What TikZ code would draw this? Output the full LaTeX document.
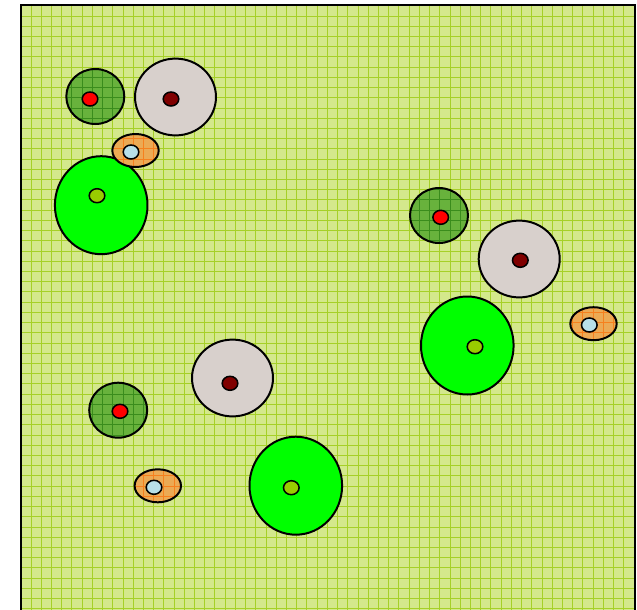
\documentclass[tikz,border=0pt]{standalone}
\definecolor{lawn}{RGB}{212,232,140}
\definecolor{lawngrid}{RGB}{166,208,40}
\definecolor{bush}{RGB}{104,178,60}
\definecolor{bushgrid}{RGB}{58,140,28}
\definecolor{bed}{RGB}{236,170,84}
\definecolor{bedgrid}{RGB}{246,128,30}
\definecolor{stone}{RGB}{216,208,204}
\definecolor{pond}{RGB}{184,224,232}
\definecolor{seed}{RGB}{153,204,0}
\definecolor{berry}{RGB}{128,0,0}
\tikzset{
  outline/.style={draw=black,line width=1.7pt},
  dotline/.style={draw=black,line width=1.3pt},
  gridline/.style={line width=0.8pt}
}
\begin{document}
\begin{tikzpicture}[x=0.03cm,y=-0.03cm]
  \clip (0,0) rectangle (637,609);
  % lawn with its grid
  \fill[lawn] (21,5) rectangle (635,620);
  \foreach \col in {0,...,59}
    \draw[lawngrid,gridline] (31+10.22*\col,5) -- (31+10.22*\col,620);
  \foreach \row in {0,...,59}
    \draw[lawngrid,gridline] (21,16+10.22*\row) -- (635,16+10.22*\row);
  \draw[line width=1.7pt] (21,620) -- (21,5) -- (635,5) -- (635,620);
  % big green beds
  \foreach \cx/\cy/\dx/\dy in {101.2/205.2/97/195.7, 467.3/345.5/475/346.7, 295.8/485.7/291.3/487.7} {
    \filldraw[fill=green,outline] (\cx,\cy) ellipse [x radius=46.3, y radius=49];
    \filldraw[fill=seed,dotline] (\dx,\dy) ellipse [x radius=7.8, y radius=7];
  }
  % grey stones
  \foreach \cx/\cy/\dx/\dy in {175.5/97/171/99, 519.2/259/520.3/260.3, 232.5/378/230/383.3} {
    \filldraw[fill=stone,outline] (\cx,\cy) ellipse [x radius=40.5, y radius=38.4];
    \filldraw[fill=berry,dotline] (\dx,\dy) ellipse [x radius=7.8, y radius=7];
  }
  % dark green bushes
  \foreach \cx/\cy/\dx/\dy in {95.3/96.5/90/99, 439/215.5/440.7/217.3, 118.2/410.2/120/411.3} {
    \begin{scope}
      \clip (\cx,\cy) ellipse [x radius=29, y radius=27.5];
      \fill[bush] (\cx-30,\cy-30) rectangle (\cx+30,\cy+30);
      \foreach \col in {0,...,59}
        \draw[bushgrid,gridline] (31+10.22*\col,5) -- (31+10.22*\col,620);
      \foreach \row in {0,...,59}
        \draw[bushgrid,gridline] (21,16+10.22*\row) -- (635,16+10.22*\row);
    \end{scope}
    \draw[outline] (\cx,\cy) ellipse [x radius=29, y radius=27.5];
    \filldraw[fill=red,dotline] (\dx,\dy) ellipse [x radius=7.8, y radius=7];
  }
  % orange beds
  \foreach \cx/\cy/\dx/\dy in {135.5/150.5/131/152, 593.5/323.7/589.3/325, 157.8/485.8/154/487.3} {
    \begin{scope}
      \clip (\cx,\cy) ellipse [x radius=23.2, y radius=16.5];
      \fill[bed] (\cx-25,\cy-20) rectangle (\cx+25,\cy+20);
      \foreach \col in {0,...,59}
        \draw[bedgrid,gridline] (31+10.22*\col,5) -- (31+10.22*\col,620);
      \foreach \row in {0,...,59}
        \draw[bedgrid,gridline] (21,16+10.22*\row) -- (635,16+10.22*\row);
    \end{scope}
    \draw[outline] (\cx,\cy) ellipse [x radius=23.2, y radius=16.5];
    \filldraw[fill=pond,dotline] (\dx,\dy) ellipse [x radius=7.8, y radius=7];
  }
\end{tikzpicture}
\end{document}
